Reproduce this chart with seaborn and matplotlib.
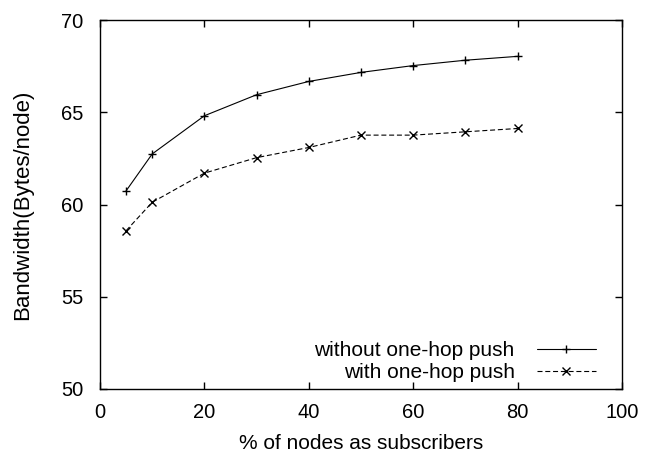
import matplotlib
matplotlib.use("Agg")
import matplotlib.pyplot as plt
import seaborn as sns
import pandas as pd

x_vals = [5, 10, 20, 30, 40, 50, 60, 70, 80]
without_push = [60.74, 62.74, 64.81, 65.95, 66.67, 67.16, 67.53, 67.82, 68.03]
with_push = [58.58, 60.12, 61.70, 62.54, 63.09, 63.76, 63.76, 63.94, 64.12]
series_names = ["without one-hop push", "with one-hop push"]
x_ticks = [0, 20, 40, 60, 80, 100]
y_ticks = [50, 55, 60, 65, 70]

sns.set_theme(style="ticks")
plt.rcParams['font.family'] = ['Liberation Sans', 'DejaVu Sans']
plt.rcParams['text.color'] = 'black'
plt.rcParams['axes.labelcolor'] = 'black'

df = pd.DataFrame({
    "x": x_vals * 2,
    "y": without_push + with_push,
    "series": [series_names[0]] * len(x_vals) + [series_names[1]] * len(x_vals),
})

fig = plt.figure(figsize=(6.46, 4.53), dpi=100)
ax = fig.add_axes([100/646, 64/453, 522/646, 369/453])

sns.lineplot(data=df, x="x", y="y", hue="series", style="series",
             palette=["black", "black"], markers=["+", "x"],
             dashes=[(None, None), (4.5, 2.5)], ax=ax, linewidth=0.8,
             markersize=6, markeredgewidth=1.0, markeredgecolor="black")

ax.set_xlim(0, 100)
ax.set_ylim(50, 70)
ax.set_xticks(x_ticks)
ax.set_yticks(y_ticks)
ax.tick_params(direction="in", length=5, width=1, top=True, right=True,
               labelsize=14.5, colors="black")
ax.tick_params(axis="y", pad=12)
ax.tick_params(axis="x", pad=10)
for s in ax.spines.values():
    s.set_visible(True)
    s.set_linewidth(1.0)
    s.set_color("black")
ax.set_xlabel("% of nodes as subscribers", fontsize=15, labelpad=9)
ax.set_ylabel("Bandwidth(Bytes/node)", fontsize=16, labelpad=20)

handles, labels = ax.get_legend_handles_labels()
ax.legend(handles, labels, loc="lower right", frameon=False, markerfirst=False,
          fontsize=15, handlelength=2.85, handletextpad=1.05, labelspacing=0.15,
          borderpad=0, borderaxespad=0, bbox_to_anchor=(0.95, 0.018))

fig.savefig("out.png", dpi=100)
